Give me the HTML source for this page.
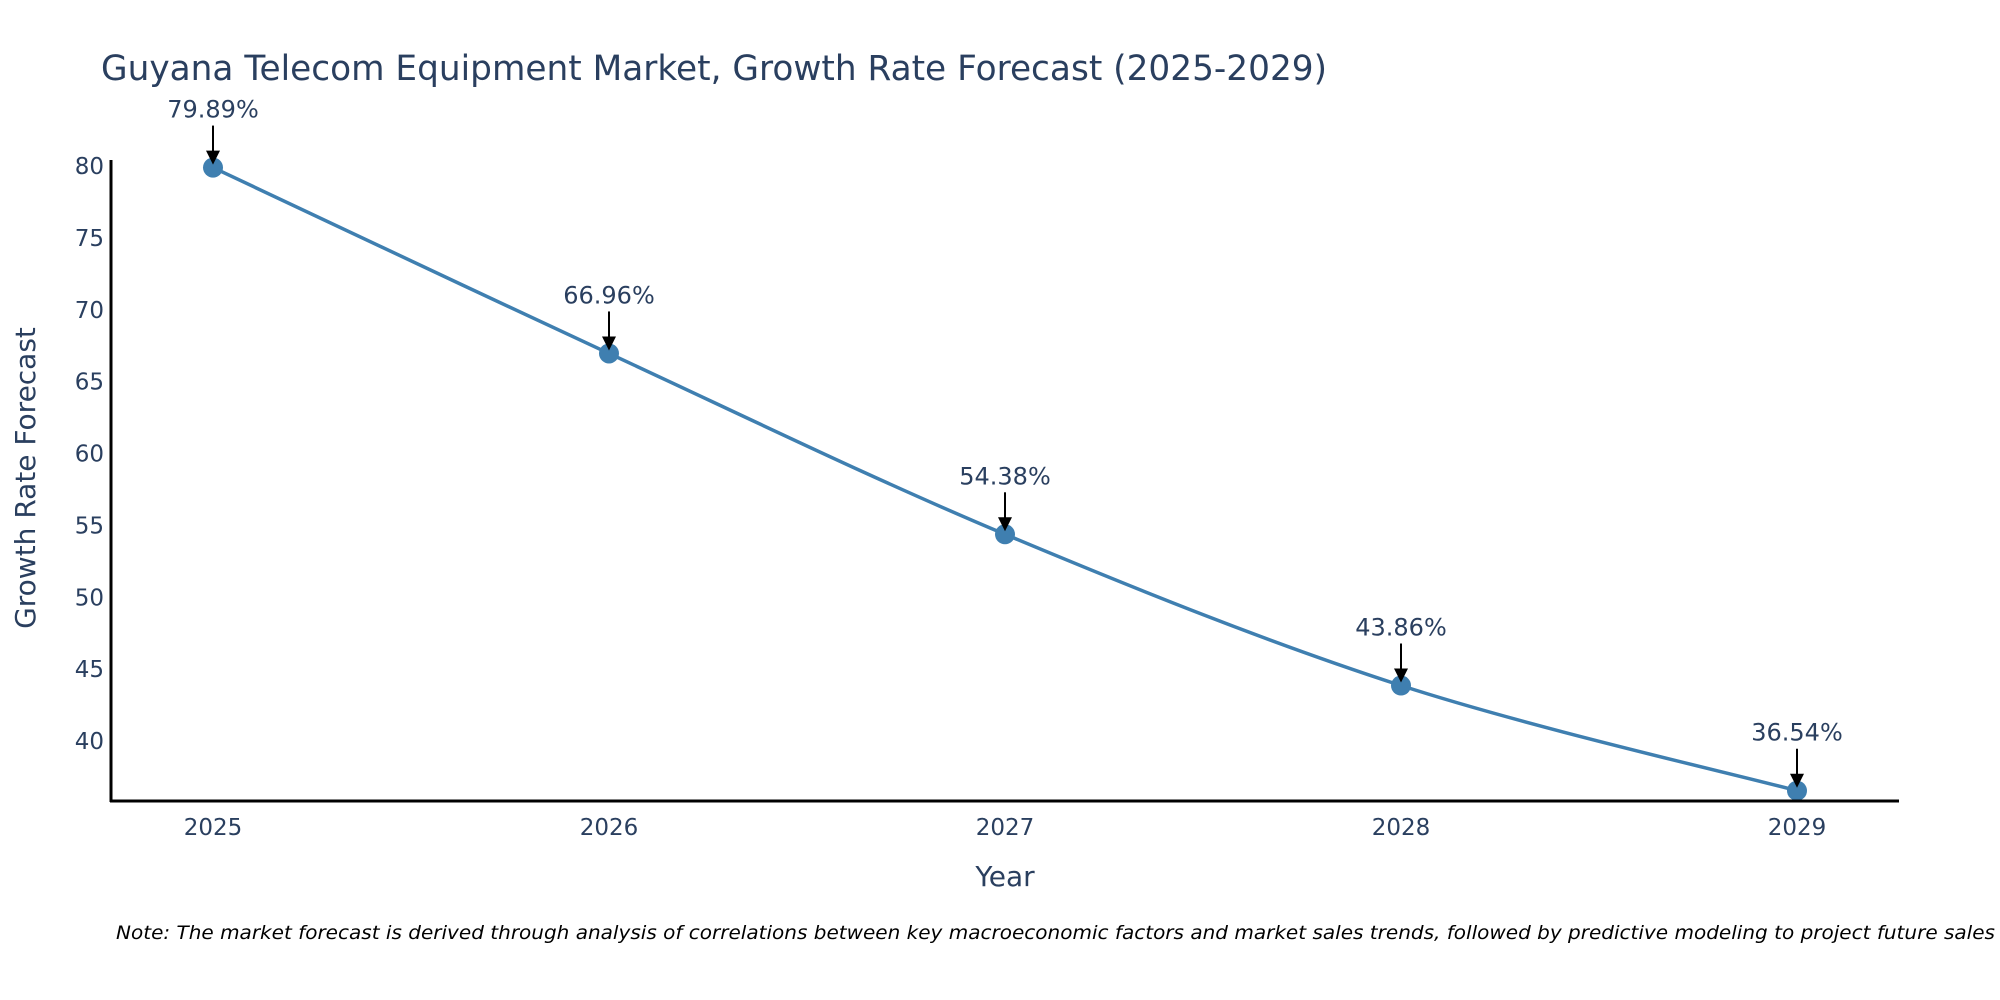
<!DOCTYPE html>
<html><head><meta charset="utf-8"><style>
body{margin:0;background:#fff;}
svg{display:block;font-family:"DejaVu Sans","Liberation Sans",sans-serif;}
</style></head><body>
<svg id="chart" width="2000" height="1000" viewBox="0 0 2000 1000">
<text x="101" y="80" font-size="35" fill="#2a3f5f" textLength="1226" lengthAdjust="spacingAndGlyphs">Guyana Telecom Equipment Market, Growth Rate Forecast (2025-2029)</text>
<g id="yticks"></g>
<g id="xticks"></g>
<path id="line" fill="none" stroke="#3f7fb0" stroke-width="3.5"/>
<g id="marks"></g>
<g id="annos"></g>
<line x1="111" y1="160" x2="111" y2="802" stroke="#000" stroke-width="3"/>
<line x1="110" y1="801" x2="1899" y2="801" stroke="#000" stroke-width="3"/>
<text x="1005" y="886" font-size="28" fill="#2a3f5f" text-anchor="middle">Year</text>
<text transform="translate(35,478) rotate(-90)" font-size="28" fill="#2a3f5f" text-anchor="middle">Growth Rate Forecast</text>
<text x="116" y="939" font-size="19" font-style="italic" fill="#000" textLength="1879" lengthAdjust="spacingAndGlyphs">Note: The market forecast is derived through analysis of correlations between key macroeconomic factors and market sales trends, followed by predictive modeling to project future sales</text>
</svg>
<script>
const years = [2025, 2026, 2027, 2028, 2029];
const values = [79.89, 66.96, 54.38, 43.86, 36.54];
const valueLabels = ["79.89%", "66.96%", "54.38%", "43.86%", "36.54%"];
const yTickValues = [40, 45, 50, 55, 60, 65, 70, 75, 80];

const NS = "http://www.w3.org/2000/svg";
function xScale(v){ return 213 + (v - 2025) * 396; }
function yScale(v){ return 741 - (v - 40) * 14.375; }
function mk(tag, attrs, parent){ const e=document.createElementNS(NS,tag); for(const k in attrs) e.setAttribute(k,attrs[k]); parent.appendChild(e); return e; }

const yt=document.getElementById('yticks');
yTickValues.forEach(v=>{
  const t=mk('text',{x:104,y:yScale(v)+8,'font-size':23,fill:'#2a3f5f','text-anchor':'end'},yt);
  
  
  t.textContent=v;
});
const xt=document.getElementById('xticks');
years.forEach(v=>{
  const t=mk('text',{x:xScale(v),y:835,'font-size':23,fill:'#2a3f5f','text-anchor':'middle'},xt);
  
  
  t.textContent=v;
});

const pts=years.map((y,i)=>[xScale(y),yScale(values[i])]);
let d=`M${pts[0][0]},${pts[0][1]}`;
for(let i=0;i<pts.length-1;i++){
  const p0=pts[i-1]||pts[i], p1=pts[i], p2=pts[i+1], p3=pts[i+2]||p2;
  const s=0.5/3;
  d+=` C${p1[0]+(p2[0]-p0[0])*s},${p1[1]+(p2[1]-p0[1])*s} ${p2[0]-(p3[0]-p1[0])*s},${p2[1]-(p3[1]-p1[1])*s} ${p2[0]},${p2[1]}`;
}
document.getElementById('line').setAttribute('d',d);

const mg=document.getElementById('marks'), ag=document.getElementById('annos');
pts.forEach((p,i)=>{
  const c=mk('circle',{cx:p[0],cy:p[1],r:10,fill:'#3f7fb0'},mg);
  
  
  const l=mk('line',{x1:p[0],y1:p[1]-42,x2:p[0],y2:p[1]-12,stroke:'#000','stroke-width':2},ag);
  
  
  const h=mk('polygon',{points:`${p[0]-7},${p[1]-17} ${p[0]+7},${p[1]-17} ${p[0]},${p[1]-3}`,fill:'#000'},ag);
  
  
  const t=mk('text',{x:p[0],y:p[1]-50,'font-size':24,fill:'#2a3f5f','text-anchor':'middle'},ag);
  
  
  t.textContent=valueLabels[i];
});
</script>
</body></html>
